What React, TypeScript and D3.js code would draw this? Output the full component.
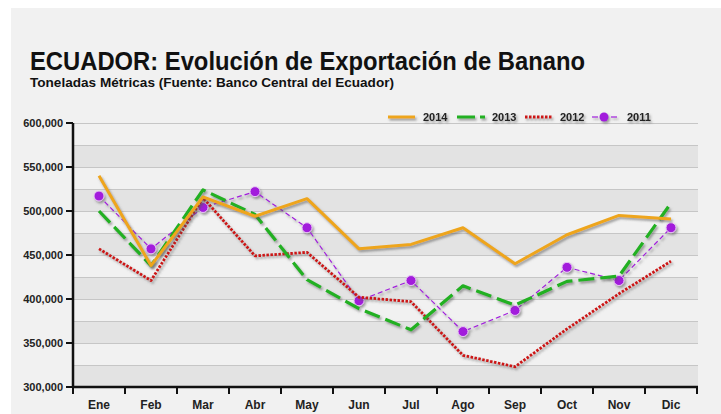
import React from 'react';
import * as d3 from 'd3';

const months = ['Ene', 'Feb', 'Mar', 'Abr', 'May', 'Jun', 'Jul', 'Ago', 'Sep', 'Oct', 'Nov', 'Dic'];
const y2014 = [540000, 438000, 516000, 494000, 514000, 457000, 462000, 481000, 440000, 473000, 495000, 491000];
const y2013 = [500000, 438000, 524000, 496000, 422000, 389000, 365000, 415000, 393000, 420000, 426000, 509000];
const y2012 = [457000, 421000, 515000, 449000, 453000, 402000, 397000, 336000, 323000, 366000, 406000, 443000];
const y2011 = [517000, 457000, 504000, 522000, 481000, 398000, 421000, 363000, 387000, 436000, 421000, 481000];
const yTicks = [300000, 350000, 400000, 450000, 500000, 550000, 600000];

const font = "'Liberation Sans', Arial, Helvetica, sans-serif";

const W = 721;
const H = 414;
const left = 73, right = 697, top = 123, bottom = 387;

const x = d3.scaleBand<string>().domain(months).range([left, right]);
const y = d3.scaleLinear().domain([300000, 600000]).range([bottom, top]);
const cx = (m: string) => (x(m) as number) + x.bandwidth() / 2;

const line = d3
    .line<number>()
    .x((d, i) => cx(months[i]))
    .y(d => y(d));

const series = [
    { name: '2014', data: y2014, color: '#eea51c', width: 3, dash: undefined as string | undefined, dots: false },
    { name: '2013', data: y2013, color: '#20b020', width: 3.2, dash: '16,6', dots: false },
    { name: '2012', data: y2012, color: '#cc1515', width: 2.8, dash: '2.5,1.5', dots: false },
    { name: '2011', data: y2011, color: '#a21fdc', width: 1.2, dash: '5,3', dots: true },
];

// back to front
const drawOrder = [series[3], series[2], series[1], series[0]];

const legendX = [388, 457, 525, 592];

const App = () => {
    const bands = d3.range(300000, 600000, 25000);
    const grid = d3.range(300000, 600001, 25000);
    return (
        <svg width={W} height={H} style={{ position: 'absolute', left: 0, top: 0 }} fontFamily={font}>
            <defs>
                <filter id="shadow" x="-10%" y="-10%" width="120%" height="130%">
                    <feDropShadow dx="1.5" dy="2" stdDeviation="1" floodColor="#555" floodOpacity="0.55" />
                </filter>
            </defs>
            <rect x={0} y={0} width={W} height={H} fill="#ffffff" />
            <rect x={11} y={8} width={W - 11} height={H - 8} fill="#f1f1f1" />

            <text x={30} y={70} fontSize={26} fontWeight="bold" fill="#111" textLength={555} lengthAdjust="spacingAndGlyphs">
                ECUADOR: Evolución de Exportación de Banano
            </text>
            <text x={30} y={87} fontSize={13} fontWeight="bold" fill="#111" textLength={364} lengthAdjust="spacingAndGlyphs">
                Toneladas Métricas (Fuente: Banco Central del Ecuador)
            </text>

            {bands.map((v, i) => (
                <rect
                    key={v}
                    x={left}
                    y={y(v + 25000)}
                    width={right - left + 1}
                    height={y(v) - y(v + 25000)}
                    fill={i % 2 === 0 ? '#e3e3e3' : '#f1f1f1'}
                />
            ))}
            {grid.map(v => (
                <line key={v} x1={left} x2={right + 1} y1={y(v) + 0.5} y2={y(v) + 0.5} stroke="#c6c6c6" strokeWidth={1} />
            ))}

            {/* axes */}
            <line x1={left} x2={left} y1={top} y2={bottom + 1} stroke="#111" strokeWidth={2.5} />
            <line x1={left - 1} x2={right + 1} y1={bottom} y2={bottom} stroke="#111" strokeWidth={2.5} />
            {yTicks.map(v => (
                <g key={v}>
                    <line x1={left - 7} x2={left} y1={y(v)} y2={y(v)} stroke="#111" strokeWidth={2} />
                    <text x={left - 10} y={y(v) + 4} fontSize={11} fontWeight="bold" textAnchor="end" fill="#222">
                        {d3.format(',')(v)}
                    </text>
                </g>
            ))}
            {[...months.map(m => x(m) as number), right].map((t, i) => (
                <line key={i} x1={t} x2={t} y1={bottom} y2={bottom + 7} stroke="#111" strokeWidth={2} />
            ))}
            {months.map(m => (
                <text key={m} x={cx(m)} y={409} fontSize={12} fontWeight="bold" textAnchor="middle" fill="#222">
                    {m}
                </text>
            ))}

            {/* series */}
            {drawOrder.map(s => (
                <g key={s.name} filter="url(#shadow)">
                    <path
                        d={line(s.data) as string}
                        fill="none"
                        stroke={s.color}
                        strokeWidth={s.width}
                        strokeDasharray={s.dash}
                        strokeLinejoin="round"
                    />
                    {s.dots &&
                        s.data.map((v, i) => (
                            <circle key={i} cx={cx(months[i])} cy={y(v)} r={5} fill={s.color} stroke="#e9c6f5" strokeWidth={1} />
                        ))}
                </g>
            ))}

            {/* legend */}
            {series.map((s, i) => (
                <g key={s.name} filter="url(#shadow)">
                    {s.name === '2013' ? (
                        <>
                            <line x1={legendX[i]} x2={legendX[i] + 18} y1={117} y2={117} stroke={s.color} strokeWidth={3} />
                            <line x1={legendX[i] + 23} x2={legendX[i] + 28} y1={117} y2={117} stroke={s.color} strokeWidth={3} />
                        </>
                    ) : s.name === '2011' ? (
                        <>
                            <line x1={legendX[i]} x2={legendX[i] + 6} y1={117} y2={117} stroke={s.color} strokeWidth={1.2} />
                            <line x1={legendX[i] + 19} x2={legendX[i] + 25} y1={117} y2={117} stroke={s.color} strokeWidth={1.2} />
                            <circle cx={legendX[i] + 12} cy={117} r={4.5} fill={s.color} />
                        </>
                    ) : (
                        <line
                            x1={legendX[i]}
                            x2={legendX[i] + 27}
                            y1={117}
                            y2={117}
                            stroke={s.color}
                            strokeWidth={s.width}
                            strokeDasharray={s.dash}
                        />
                    )}
                    <text x={legendX[i] + 35} y={121} fontSize={11} fontWeight="bold" fill="#222">
                        {s.name}
                    </text>
                </g>
            ))}
        </svg>
    );
};

export default App;
